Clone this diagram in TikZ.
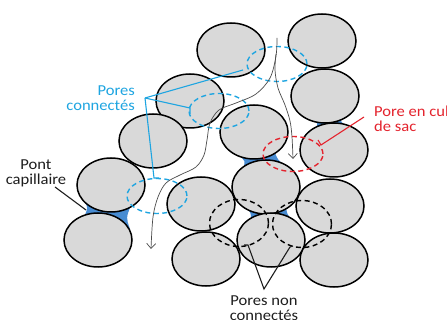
\documentclass[tikz,border=0pt]{standalone}
\usepackage{fontspec}
\setmainfont{Carlito}[FakeStretch=1.09]
\usetikzlibrary{shapes.geometric,arrows.meta}

\definecolor{grain}{RGB}{217,217,217}
\definecolor{bridge}{RGB}{72,140,210}
\definecolor{poreblue}{RGB}{30,165,225}
\definecolor{porered}{RGB}{228,35,45}
\definecolor{flow}{RGB}{75,75,75}
\definecolor{ink}{RGB}{30,30,30}

\begin{document}
\begin{tikzpicture}[x=1pt,y=-1pt,
  grainnode/.style={ellipse,draw=black,fill=grain,line width=1.5pt,
    minimum width=68pt,minimum height=54pt,inner sep=0pt},
  bridgefill/.style={fill=bridge},
  poreshape/.style={ellipse,line width=1.4pt,dash pattern=on 5pt off 3.5pt,
    inner sep=0pt,minimum width=60pt,minimum height=35pt},
  connpore/.style={poreshape,draw=poreblue},
  deadpore/.style={poreshape,draw=porered},
  closedpore/.style={poreshape,draw=black,minimum width=59pt,minimum height=47pt},
  flowline/.style={draw=flow,line width=0.7pt,-{Straight Barb[length=5pt,width=9pt]}},
  leader/.style={line width=1.1pt},
  lbl/.style={font=\fontsize{15.2}{15}\selectfont,inner sep=0pt},
]
\useasboundingbox (0,0) rectangle (447,320);
\fill[white] (0,0) rectangle (447,320);

% liquid bridges between touching grains (concave necks)
\fill[bridgefill] (85,202) .. controls (88,208) .. (84,217)
  -- (120,228) -- (130,229) .. controls (126,218) .. (131,205) -- cycle;
\fill[bridgefill] (240,156) .. controls (245,161) .. (244,166)
  -- (284,165) .. controls (278,160) .. (275,153) -- cycle;
\fill[bridgefill] (314,120) .. controls (318,124) .. (316,127)
  -- (347,126) .. controls (342,123) .. (340,119) -- cycle;
\fill[bridgefill] (246,207) .. controls (251,213) .. (251,219)
  -- (292,220) .. controls (287,214) .. (286,207) -- cycle;

% grains
\node[grainnode] (g1)  at (231,50)  {};
\node[grainnode] (g2)  at (322,41)  {};
\node[grainnode] (g3)  at (325,96)  {};
\node[grainnode] (g4)  at (190,101) {};
\node[grainnode] (g5)  at (254,132) {};
\node[grainnode] (g6)  at (153,141) {};
\node[grainnode] (g7)  at (334,150) {};
\node[grainnode] (g8)  at (111,185) {};
\node[grainnode] (g9)  at (98,240)  {};
\node[grainnode] (g10) at (266,187) {};
\node[grainnode] (g11) at (201,204) {};
\node[grainnode] (g12) at (330,206) {};
\node[grainnode] (g13) at (271,240) {};
\node[grainnode] (g14) at (206,259) {};
\node[grainnode] (g15) at (334,260) {};

% pores
\node[connpore] (pa) at (277,64)  {};
\node[connpore] (pb) at (219,111) {};
\node[connpore] (pc) at (157,196) {};
\node[deadpore] (pd) at (293,154) {};
\node[closedpore] (pe) at (239,223) {};
\node[closedpore] (pf) at (302,224) {};

% flow paths
\coordinate (fin) at (277,38);
\coordinate (fsplit) at (276,54);
\draw[flowline] plot[smooth,tension=0.55] coordinates {
  (fin) (276,56) (270,78) (256,94) (236,103) (219,110) (210,123)
  (207,140) (204,155) (196,167) (180,175) (166,183) (158,197)
  (153,217) (151,249)};
\draw[flowline] plot[smooth,tension=0.55] coordinates {
  (fsplit) (275,70) (278,88) (285,105) (290,121) (292,137) (293,159)};

% leaders and labels
\node[lbl,text=poreblue,align=right,anchor=east] (lconn) at (135,98) {Pores\\connectés};
\coordinate (cfork) at (145,98);
\coordinate (ca) at (243,70);
\coordinate (cb) at (190,108);
\coordinate (cb2) at (190,114);
\coordinate (cc) at (154,178);
\coordinate (cc2) at (159,178);
\draw[leader,draw=poreblue] (cfork) -- (ca);
\draw[leader,draw=poreblue] (cfork) -- (cb) -- (cb2);
\draw[leader,draw=poreblue] (cfork) -- (cc) -- (cc2);

\node[lbl,text=ink,align=center] (lpont) at (36,173) {Pont\\capillaire};
\coordinate (pt0) at (55,187);
\coordinate (pt1) at (86,210);
\draw[leader,draw=ink] (pt0) -- (pt1);

\node[lbl,text=porered,align=left,anchor=west] (lsac) at (374,119) {Pore en cul\\de sac};
\coordinate (rs0) at (364,117);
\coordinate (rs1) at (321,145);
\coordinate (rs2) at (318,140);
\draw[leader,draw=porered] (rs0) -- (rs1) -- (rs2);

\node[lbl,text=ink,align=center] (lnon) at (264,308) {Pores non\\connectés};
\coordinate (nv) at (264,289);
\coordinate (nl) at (248,245);
\coordinate (nl2) at (244,245);
\coordinate (nr) at (290,247);
\coordinate (nr2) at (293,246);
\draw[leader,draw=ink] (nl2) -- (nl) -- (nv) -- (nr) -- (nr2);
\end{tikzpicture}
\end{document}
